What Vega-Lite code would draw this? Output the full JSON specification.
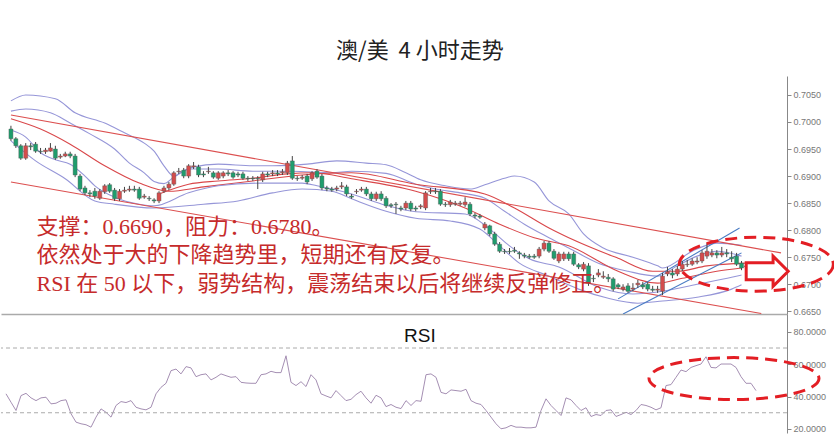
{
  "$schema": "https://vega.github.io/schema/vega-lite/v6.json",
  "background": "white",
  "padding": {"left": 0, "top": 40, "right": 0, "bottom": 0},
  "title": {"text": "澳/美\u00a0\u00a04\u00a0小时走势", "font": "Noto Sans CJK SC", "fontSize": 22, "fontWeight": "normal", "color": "#222222", "anchor": "middle", "offset": 13},
  "config": {"view": {"stroke": null}},
  "spacing": 0,
  "bounds": "flush",
  "datasets": {
    "candles": [
      {"i":0,"o":0.6987,"h":0.6993,"l":0.6965,"c":0.6969},
      {"i":1,"o":0.6969,"h":0.6972,"l":0.6952,"c":0.6956},
      {"i":2,"o":0.6956,"h":0.6959,"l":0.6930,"c":0.6933},
      {"i":3,"o":0.6933,"h":0.6961,"l":0.6930,"c":0.6956},
      {"i":4,"o":0.6956,"h":0.6961,"l":0.6948,"c":0.6954},
      {"i":5,"o":0.6959,"h":0.6963,"l":0.6943,"c":0.6946},
      {"i":6,"o":0.6946,"h":0.6952,"l":0.6941,"c":0.6945},
      {"i":7,"o":0.6945,"h":0.6952,"l":0.6941,"c":0.6948},
      {"i":8,"o":0.6946,"h":0.6961,"l":0.6945,"c":0.6952},
      {"i":9,"o":0.6950,"h":0.6956,"l":0.6930,"c":0.6933},
      {"i":10,"o":0.6935,"h":0.6941,"l":0.6932,"c":0.6937},
      {"i":11,"o":0.6937,"h":0.6945,"l":0.6935,"c":0.6941},
      {"i":12,"o":0.6941,"h":0.6945,"l":0.6933,"c":0.6937},
      {"i":13,"o":0.6937,"h":0.6941,"l":0.6898,"c":0.6902},
      {"i":14,"o":0.6900,"h":0.6904,"l":0.6872,"c":0.6876},
      {"i":15,"o":0.6878,"h":0.6882,"l":0.6865,"c":0.6869},
      {"i":16,"o":0.6869,"h":0.6874,"l":0.6861,"c":0.6867},
      {"i":17,"o":0.6872,"h":0.6878,"l":0.6858,"c":0.6863},
      {"i":18,"o":0.6859,"h":0.6876,"l":0.6856,"c":0.6872},
      {"i":19,"o":0.6871,"h":0.6885,"l":0.6867,"c":0.6882},
      {"i":20,"o":0.6884,"h":0.6887,"l":0.6869,"c":0.6872},
      {"i":21,"o":0.6874,"h":0.6878,"l":0.6854,"c":0.6858},
      {"i":22,"o":0.6858,"h":0.6876,"l":0.6854,"c":0.6872},
      {"i":23,"o":0.6872,"h":0.6880,"l":0.6869,"c":0.6874},
      {"i":24,"o":0.6874,"h":0.6882,"l":0.6871,"c":0.6876},
      {"i":25,"o":0.6876,"h":0.6882,"l":0.6871,"c":0.6874},
      {"i":26,"o":0.6876,"h":0.6880,"l":0.6856,"c":0.6859},
      {"i":27,"o":0.6861,"h":0.6867,"l":0.6858,"c":0.6863},
      {"i":28,"o":0.6859,"h":0.6863,"l":0.6854,"c":0.6858},
      {"i":29,"o":0.6856,"h":0.6859,"l":0.6850,"c":0.6854},
      {"i":30,"o":0.6854,"h":0.6872,"l":0.6850,"c":0.6869},
      {"i":31,"o":0.6872,"h":0.6882,"l":0.6869,"c":0.6878},
      {"i":32,"o":0.6878,"h":0.6889,"l":0.6874,"c":0.6885},
      {"i":33,"o":0.6885,"h":0.6909,"l":0.6882,"c":0.6906},
      {"i":34,"o":0.6908,"h":0.6915,"l":0.6904,"c":0.6909},
      {"i":35,"o":0.6911,"h":0.6915,"l":0.6896,"c":0.6900},
      {"i":36,"o":0.6900,"h":0.6922,"l":0.6896,"c":0.6919},
      {"i":37,"o":0.6917,"h":0.6926,"l":0.6913,"c":0.6919},
      {"i":38,"o":0.6917,"h":0.6921,"l":0.6898,"c":0.6902},
      {"i":39,"o":0.6904,"h":0.6909,"l":0.6898,"c":0.6902},
      {"i":40,"o":0.6908,"h":0.6917,"l":0.6904,"c":0.6909},
      {"i":41,"o":0.6906,"h":0.6909,"l":0.6895,"c":0.6898},
      {"i":42,"o":0.6896,"h":0.6909,"l":0.6893,"c":0.6906},
      {"i":43,"o":0.6900,"h":0.6909,"l":0.6896,"c":0.6906},
      {"i":44,"o":0.6906,"h":0.6911,"l":0.6900,"c":0.6904},
      {"i":45,"o":0.6906,"h":0.6909,"l":0.6895,"c":0.6898},
      {"i":46,"o":0.6904,"h":0.6908,"l":0.6898,"c":0.6902},
      {"i":47,"o":0.6904,"h":0.6908,"l":0.6893,"c":0.6896},
      {"i":48,"o":0.6896,"h":0.6900,"l":0.6891,"c":0.6895},
      {"i":49,"o":0.6896,"h":0.6900,"l":0.6891,"c":0.6895},
      {"i":50,"o":0.6896,"h":0.6900,"l":0.6876,"c":0.6895},
      {"i":51,"o":0.6893,"h":0.6908,"l":0.6889,"c":0.6904},
      {"i":52,"o":0.6904,"h":0.6908,"l":0.6898,"c":0.6902},
      {"i":53,"o":0.6904,"h":0.6911,"l":0.6900,"c":0.6906},
      {"i":54,"o":0.6906,"h":0.6911,"l":0.6900,"c":0.6904},
      {"i":55,"o":0.6906,"h":0.6913,"l":0.6902,"c":0.6908},
      {"i":56,"o":0.6906,"h":0.6928,"l":0.6902,"c":0.6924},
      {"i":57,"o":0.6928,"h":0.6937,"l":0.6893,"c":0.6896},
      {"i":58,"o":0.6896,"h":0.6900,"l":0.6891,"c":0.6895},
      {"i":59,"o":0.6896,"h":0.6902,"l":0.6893,"c":0.6898},
      {"i":60,"o":0.6900,"h":0.6904,"l":0.6885,"c":0.6889},
      {"i":61,"o":0.6895,"h":0.6909,"l":0.6891,"c":0.6906},
      {"i":62,"o":0.6909,"h":0.6913,"l":0.6895,"c":0.6898},
      {"i":63,"o":0.6900,"h":0.6904,"l":0.6874,"c":0.6878},
      {"i":64,"o":0.6878,"h":0.6882,"l":0.6872,"c":0.6876},
      {"i":65,"o":0.6876,"h":0.6880,"l":0.6871,"c":0.6874},
      {"i":66,"o":0.6876,"h":0.6882,"l":0.6872,"c":0.6878},
      {"i":67,"o":0.6880,"h":0.6889,"l":0.6876,"c":0.6882},
      {"i":68,"o":0.6880,"h":0.6884,"l":0.6863,"c":0.6867},
      {"i":69,"o":0.6863,"h":0.6867,"l":0.6858,"c":0.6861},
      {"i":70,"o":0.6871,"h":0.6876,"l":0.6867,"c":0.6872},
      {"i":71,"o":0.6874,"h":0.6880,"l":0.6871,"c":0.6876},
      {"i":72,"o":0.6876,"h":0.6880,"l":0.6863,"c":0.6867},
      {"i":73,"o":0.6867,"h":0.6871,"l":0.6854,"c":0.6858},
      {"i":74,"o":0.6858,"h":0.6871,"l":0.6854,"c":0.6867},
      {"i":75,"o":0.6867,"h":0.6872,"l":0.6854,"c":0.6858},
      {"i":76,"o":0.6859,"h":0.6863,"l":0.6841,"c":0.6845},
      {"i":77,"o":0.6847,"h":0.6850,"l":0.6841,"c":0.6845},
      {"i":78,"o":0.6848,"h":0.6852,"l":0.6830,"c":0.6847},
      {"i":79,"o":0.6841,"h":0.6845,"l":0.6835,"c":0.6839},
      {"i":80,"o":0.6841,"h":0.6854,"l":0.6837,"c":0.6850},
      {"i":81,"o":0.6850,"h":0.6854,"l":0.6835,"c":0.6839},
      {"i":82,"o":0.6841,"h":0.6845,"l":0.6835,"c":0.6839},
      {"i":83,"o":0.6843,"h":0.6848,"l":0.6839,"c":0.6845},
      {"i":84,"o":0.6841,"h":0.6872,"l":0.6837,"c":0.6869},
      {"i":85,"o":0.6871,"h":0.6878,"l":0.6867,"c":0.6872},
      {"i":86,"o":0.6872,"h":0.6878,"l":0.6867,"c":0.6871},
      {"i":87,"o":0.6872,"h":0.6876,"l":0.6845,"c":0.6848},
      {"i":88,"o":0.6848,"h":0.6852,"l":0.6843,"c":0.6847},
      {"i":89,"o":0.6847,"h":0.6856,"l":0.6843,"c":0.6852},
      {"i":90,"o":0.6848,"h":0.6854,"l":0.6845,"c":0.6850},
      {"i":91,"o":0.6848,"h":0.6854,"l":0.6845,"c":0.6850},
      {"i":92,"o":0.6847,"h":0.6861,"l":0.6843,"c":0.6852},
      {"i":93,"o":0.6848,"h":0.6852,"l":0.6826,"c":0.6830},
      {"i":94,"o":0.6828,"h":0.6832,"l":0.6822,"c":0.6826},
      {"i":95,"o":0.6826,"h":0.6830,"l":0.6821,"c":0.6824},
      {"i":96,"o":0.6804,"h":0.6815,"l":0.6800,"c":0.6811},
      {"i":97,"o":0.6808,"h":0.6810,"l":0.6789,"c":0.6793},
      {"i":98,"o":0.6793,"h":0.6797,"l":0.6771,"c":0.6774},
      {"i":99,"o":0.6774,"h":0.6778,"l":0.6758,"c":0.6761},
      {"i":100,"o":0.6761,"h":0.6765,"l":0.6756,"c":0.6760},
      {"i":101,"o":0.6761,"h":0.6767,"l":0.6756,"c":0.6760},
      {"i":102,"o":0.6763,"h":0.6769,"l":0.6758,"c":0.6761},
      {"i":103,"o":0.6758,"h":0.6761,"l":0.6747,"c":0.6756},
      {"i":104,"o":0.6754,"h":0.6758,"l":0.6748,"c":0.6752},
      {"i":105,"o":0.6752,"h":0.6756,"l":0.6747,"c":0.6750},
      {"i":106,"o":0.6752,"h":0.6756,"l":0.6747,"c":0.6750},
      {"i":107,"o":0.6752,"h":0.6769,"l":0.6748,"c":0.6765},
      {"i":108,"o":0.6765,"h":0.6780,"l":0.6761,"c":0.6776},
      {"i":109,"o":0.6776,"h":0.6780,"l":0.6758,"c":0.6761},
      {"i":110,"o":0.6761,"h":0.6765,"l":0.6745,"c":0.6748},
      {"i":111,"o":0.6743,"h":0.6760,"l":0.6739,"c":0.6756},
      {"i":112,"o":0.6747,"h":0.6760,"l":0.6743,"c":0.6756},
      {"i":113,"o":0.6756,"h":0.6760,"l":0.6743,"c":0.6747},
      {"i":114,"o":0.6756,"h":0.6760,"l":0.6734,"c":0.6737},
      {"i":115,"o":0.6736,"h":0.6739,"l":0.6728,"c":0.6732},
      {"i":116,"o":0.6728,"h":0.6741,"l":0.6724,"c":0.6737},
      {"i":117,"o":0.6734,"h":0.6739,"l":0.6697,"c":0.6702},
      {"i":118,"o":0.6711,"h":0.6717,"l":0.6704,"c":0.6710},
      {"i":119,"o":0.6717,"h":0.6728,"l":0.6713,"c":0.6721},
      {"i":120,"o":0.6713,"h":0.6724,"l":0.6710,"c":0.6715},
      {"i":121,"o":0.6713,"h":0.6719,"l":0.6704,"c":0.6710},
      {"i":122,"o":0.6710,"h":0.6713,"l":0.6687,"c":0.6691},
      {"i":123,"o":0.6699,"h":0.6702,"l":0.6691,"c":0.6695},
      {"i":124,"o":0.6691,"h":0.6700,"l":0.6687,"c":0.6695},
      {"i":125,"o":0.6697,"h":0.6702,"l":0.6684,"c":0.6687},
      {"i":126,"o":0.6691,"h":0.6702,"l":0.6687,"c":0.6693},
      {"i":127,"o":0.6699,"h":0.6708,"l":0.6693,"c":0.6702},
      {"i":128,"o":0.6699,"h":0.6704,"l":0.6691,"c":0.6695},
      {"i":129,"o":0.6700,"h":0.6704,"l":0.6687,"c":0.6691},
      {"i":130,"o":0.6691,"h":0.6697,"l":0.6686,"c":0.6689},
      {"i":131,"o":0.6689,"h":0.6697,"l":0.6684,"c":0.6691},
      {"i":132,"o":0.6687,"h":0.6721,"l":0.6680,"c":0.6715},
      {"i":133,"o":0.6719,"h":0.6732,"l":0.6715,"c":0.6723},
      {"i":134,"o":0.6721,"h":0.6728,"l":0.6711,"c":0.6717},
      {"i":135,"o":0.6719,"h":0.6734,"l":0.6715,"c":0.6728},
      {"i":136,"o":0.6728,"h":0.6743,"l":0.6724,"c":0.6737},
      {"i":137,"o":0.6736,"h":0.6745,"l":0.6732,"c":0.6737},
      {"i":138,"o":0.6737,"h":0.6748,"l":0.6734,"c":0.6743},
      {"i":139,"o":0.6741,"h":0.6750,"l":0.6737,"c":0.6743},
      {"i":140,"o":0.6743,"h":0.6763,"l":0.6739,"c":0.6758},
      {"i":141,"o":0.6752,"h":0.6776,"l":0.6747,"c":0.6761},
      {"i":142,"o":0.6754,"h":0.6765,"l":0.6750,"c":0.6758},
      {"i":143,"o":0.6758,"h":0.6763,"l":0.6748,"c":0.6754},
      {"i":144,"o":0.6754,"h":0.6769,"l":0.6750,"c":0.6758},
      {"i":145,"o":0.6758,"h":0.6765,"l":0.6750,"c":0.6756},
      {"i":146,"o":0.6750,"h":0.6761,"l":0.6741,"c":0.6747},
      {"i":147,"o":0.6752,"h":0.6758,"l":0.6734,"c":0.6737},
      {"i":148,"o":0.6739,"h":0.6743,"l":0.6726,"c":0.6730},
      {"i":149,"o":0.6734,"h":0.6739,"l":0.6726,"c":0.6732}
    ],
    "bands": [
      {"s":"U1","i":0,"v":0.7039},{"s":"U1","i":3,"v":0.7050},{"s":"U1","i":9,"v":0.7043},{"s":"U1","i":13,"v":0.7017},{"s":"U1","i":19,"v":0.6998},{"s":"U1","i":23,"v":0.6980},{"s":"U1","i":27,"v":0.6961},{"s":"U1","i":29,"v":0.6946},{"s":"U1","i":31,"v":0.6919},{"s":"U1","i":33,"v":0.6900},{"s":"U1","i":35,"v":0.6909},{"s":"U1","i":37,"v":0.6917},{"s":"U1","i":42,"v":0.6922},{"s":"U1","i":49,"v":0.6919},{"s":"U1","i":53,"v":0.6919},{"s":"U1","i":60,"v":0.6922},{"s":"U1","i":66,"v":0.6928},{"s":"U1","i":72,"v":0.6924},{"s":"U1","i":76,"v":0.6921},{"s":"U1","i":80,"v":0.6906},{"s":"U1","i":83,"v":0.6893},{"s":"U1","i":88,"v":0.6882},{"s":"U1","i":93,"v":0.6876},{"s":"U1","i":96,"v":0.6884},{"s":"U1","i":100,"v":0.6896},{"s":"U1","i":102,"v":0.6900},{"s":"U1","i":106,"v":0.6889},{"s":"U1","i":109,"v":0.6854},{"s":"U1","i":113,"v":0.6830},{"s":"U1","i":116,"v":0.6793},{"s":"U1","i":120,"v":0.6767},{"s":"U1","i":126,"v":0.6750},{"s":"U1","i":131,"v":0.6734},{"s":"U1","i":132,"v":0.6730},{"s":"U1","i":138,"v":0.6761},{"s":"U1","i":143,"v":0.6776},{"s":"U1","i":148,"v":0.6772},
      {"s":"U2","i":0,"v":0.7020},{"s":"U2","i":3,"v":0.7024},{"s":"U2","i":8,"v":0.7017},{"s":"U2","i":12,"v":0.6998},{"s":"U2","i":16,"v":0.6978},{"s":"U2","i":21,"v":0.6950},{"s":"U2","i":24,"v":0.6924},{"s":"U2","i":27,"v":0.6906},{"s":"U2","i":29,"v":0.6890},{"s":"U2","i":31,"v":0.6886},{"s":"U2","i":33,"v":0.6898},{"s":"U2","i":36,"v":0.6913},{"s":"U2","i":42,"v":0.6913},{"s":"U2","i":49,"v":0.6909},{"s":"U2","i":57,"v":0.6909},{"s":"U2","i":65,"v":0.6906},{"s":"U2","i":69,"v":0.6909},{"s":"U2","i":76,"v":0.6905},{"s":"U2","i":82,"v":0.6885},{"s":"U2","i":86,"v":0.6876},{"s":"U2","i":91,"v":0.6869},{"s":"U2","i":96,"v":0.6859},{"s":"U2","i":100,"v":0.6835},{"s":"U2","i":104,"v":0.6811},{"s":"U2","i":109,"v":0.6786},{"s":"U2","i":113,"v":0.6767},{"s":"U2","i":119,"v":0.6739},{"s":"U2","i":125,"v":0.6724},{"s":"U2","i":131,"v":0.6715},{"s":"U2","i":135,"v":0.6734},{"s":"U2","i":139,"v":0.6752},{"s":"U2","i":143,"v":0.6761},{"s":"U2","i":148,"v":0.6752},
      {"s":"M1","i":0,"v":0.7006},{"s":"M1","i":6,"v":0.6987},{"s":"M1","i":12,"v":0.6959},{"s":"M1","i":19,"v":0.6919},{"s":"M1","i":26,"v":0.6887},{"s":"M1","i":32,"v":0.6872},{"s":"M1","i":39,"v":0.6880},{"s":"M1","i":49,"v":0.6891},{"s":"M1","i":59,"v":0.6902},{"s":"M1","i":69,"v":0.6906},{"s":"M1","i":82,"v":0.6885},{"s":"M1","i":96,"v":0.6867},{"s":"M1","i":102,"v":0.6841},{"s":"M1","i":109,"v":0.6804},{"s":"M1","i":113,"v":0.6786},{"s":"M1","i":123,"v":0.6748},{"s":"M1","i":130,"v":0.6724},{"s":"M1","i":135,"v":0.6724},{"s":"M1","i":141,"v":0.6734},{"s":"M1","i":149,"v":0.6739},
      {"s":"M2","i":30,"v":0.6867},{"s":"M2","i":36,"v":0.6885},{"s":"M2","i":42,"v":0.6891},{"s":"M2","i":49,"v":0.6896},{"s":"M2","i":56,"v":0.6904},{"s":"M2","i":61,"v":0.6906},{"s":"M2","i":69,"v":0.6895},{"s":"M2","i":82,"v":0.6872},{"s":"M2","i":92,"v":0.6841},{"s":"M2","i":99,"v":0.6811},{"s":"M2","i":106,"v":0.6786},{"s":"M2","i":113,"v":0.6771},{"s":"M2","i":123,"v":0.6724},{"s":"M2","i":131,"v":0.6702},{"s":"M2","i":136,"v":0.6711},{"s":"M2","i":143,"v":0.6724},{"s":"M2","i":148,"v":0.6730},
      {"s":"L2","i":0,"v":0.6985},{"s":"L2","i":3,"v":0.6972},{"s":"L2","i":6,"v":0.6943},{"s":"L2","i":9,"v":0.6930},{"s":"L2","i":12,"v":0.6922},{"s":"L2","i":15,"v":0.6900},{"s":"L2","i":17,"v":0.6882},{"s":"L2","i":21,"v":0.6861},{"s":"L2","i":26,"v":0.6848},{"s":"L2","i":29,"v":0.6845},{"s":"L2","i":36,"v":0.6869},{"s":"L2","i":42,"v":0.6882},{"s":"L2","i":51,"v":0.6887},{"s":"L2","i":59,"v":0.6887},{"s":"L2","i":62,"v":0.6882},{"s":"L2","i":69,"v":0.6867},{"s":"L2","i":76,"v":0.6846},{"s":"L2","i":82,"v":0.6834},{"s":"L2","i":92,"v":0.6830},{"s":"L2","i":97,"v":0.6802},{"s":"L2","i":101,"v":0.6771},{"s":"L2","i":105,"v":0.6747},{"s":"L2","i":111,"v":0.6732},{"s":"L2","i":119,"v":0.6695},{"s":"L2","i":126,"v":0.6682},{"s":"L2","i":132,"v":0.6687},{"s":"L2","i":139,"v":0.6700},{"s":"L2","i":146,"v":0.6713},{"s":"L2","i":148,"v":0.6717},
      {"s":"L1","i":0,"v":0.6965},{"s":"L1","i":5,"v":0.6928},{"s":"L1","i":11,"v":0.6895},{"s":"L1","i":17,"v":0.6854},{"s":"L1","i":21,"v":0.6848},{"s":"L1","i":29,"v":0.6841},{"s":"L1","i":39,"v":0.6848},{"s":"L1","i":46,"v":0.6854},{"s":"L1","i":53,"v":0.6869},{"s":"L1","i":59,"v":0.6876},{"s":"L1","i":65,"v":0.6872},{"s":"L1","i":69,"v":0.6858},{"s":"L1","i":76,"v":0.6835},{"s":"L1","i":82,"v":0.6822},{"s":"L1","i":89,"v":0.6817},{"s":"L1","i":95,"v":0.6802},{"s":"L1","i":99,"v":0.6771},{"s":"L1","i":103,"v":0.6739},{"s":"L1","i":109,"v":0.6715},{"s":"L1","i":115,"v":0.6691},{"s":"L1","i":121,"v":0.6674},{"s":"L1","i":127,"v":0.6665},{"s":"L1","i":132,"v":0.6669},{"s":"L1","i":139,"v":0.6676},{"s":"L1","i":146,"v":0.6691},{"s":"L1","i":148,"v":0.6699},
      {"s":"TU","i":0,"v":0.7013},{"s":"TU","i":156,"v":0.6758},
      {"s":"TL","i":0,"v":0.6889},{"s":"TL","i":152,"v":0.6646},
      {"s":"B1","i":123,"v":0.6673},{"s":"B1","i":147.6,"v":0.6804},
      {"s":"B2","i":124,"v":0.6645},{"s":"B2","i":148,"v":0.6758}
    ],
    "rsi": [
      {"i":0,"r":41.7},{"i":1,"r":36.5},{"i":2,"r":31.4},{"i":3,"r":40.6},{"i":4,"r":42.0},{"i":5,"r":39.2},{"i":6,"r":37.5},{"i":7,"r":39.2},{"i":8,"r":39.6},{"i":9,"r":35.5},
      {"i":10,"r":35.9},{"i":11,"r":37.5},{"i":12,"r":38.0},{"i":13,"r":29.4},{"i":14,"r":24.2},{"i":15,"r":23.2},{"i":16,"r":22.6},{"i":17,"r":21.1},{"i":18,"r":27.3},{"i":19,"r":32.4},
      {"i":20,"r":30.3},{"i":21,"r":27.3},{"i":22,"r":34.5},{"i":23,"r":36.9},{"i":24,"r":36.3},{"i":25,"r":37.5},{"i":26,"r":33.4},{"i":27,"r":32.4},{"i":28,"r":31.8},{"i":29,"r":33.4},
      {"i":30,"r":41.7},{"i":31,"r":45.7},{"i":32,"r":48.2},{"i":33,"r":56.0},{"i":34,"r":57.0},{"i":35,"r":54.0},{"i":36,"r":58.5},{"i":37,"r":57.7},{"i":38,"r":52.3},{"i":39,"r":53.5},
      {"i":40,"r":54.0},{"i":41,"r":50.3},{"i":42,"r":51.9},{"i":43,"r":54.0},{"i":44,"r":52.9},{"i":45,"r":51.9},{"i":46,"r":52.3},{"i":47,"r":48.8},{"i":48,"r":48.4},{"i":49,"r":48.2},
      {"i":50,"r":48.2},{"i":51,"r":53.5},{"i":52,"r":54.0},{"i":53,"r":55.6},{"i":54,"r":54.8},{"i":55,"r":54.8},{"i":56,"r":65.2},{"i":57,"r":48.8},{"i":58,"r":46.8},{"i":59,"r":49.2},
      {"i":60,"r":46.2},{"i":61,"r":53.5},{"i":62,"r":50.3},{"i":63,"r":41.7},{"i":64,"r":40.4},{"i":65,"r":39.2},{"i":66,"r":43.7},{"i":67,"r":40.6},{"i":68,"r":37.5},{"i":69,"r":38.3},
      {"i":70,"r":41.2},{"i":71,"r":43.3},{"i":72,"r":39.2},{"i":73,"r":35.9},{"i":74,"r":40.8},{"i":75,"r":39.2},{"i":76,"r":33.8},{"i":77,"r":35.1},{"i":78,"r":33.4},{"i":79,"r":32.6},
      {"i":80,"r":37.5},{"i":81,"r":34.5},{"i":82,"r":37.5},{"i":83,"r":37.1},{"i":84,"r":53.5},{"i":85,"r":54.0},{"i":86,"r":51.9},{"i":87,"r":42.6},{"i":88,"r":41.7},{"i":89,"r":44.1},
      {"i":90,"r":43.7},{"i":91,"r":43.3},{"i":92,"r":44.5},{"i":93,"r":37.5},{"i":94,"r":35.9},{"i":95,"r":35.1},{"i":96,"r":31.4},{"i":97,"r":27.3},{"i":98,"r":23.2},{"i":99,"r":20.1},
      {"i":100,"r":20.7},{"i":101,"r":22.2},{"i":102,"r":21.1},{"i":103,"r":21.1},{"i":104,"r":20.7},{"i":105,"r":20.7},{"i":106,"r":21.1},{"i":107,"r":31.4},{"i":108,"r":38.6},{"i":109,"r":34.5},
      {"i":110,"r":31.4},{"i":111,"r":28.3},{"i":112,"r":39.2},{"i":113,"r":38.0},{"i":114,"r":34.5},{"i":115,"r":31.4},{"i":116,"r":33.1},{"i":117,"r":27.7},{"i":118,"r":28.9},{"i":119,"r":28.3},
      {"i":120,"r":31.4},{"i":121,"r":31.8},{"i":122,"r":27.7},{"i":123,"r":28.9},{"i":124,"r":30.3},{"i":125,"r":28.9},{"i":126,"r":31.4},{"i":127,"r":35.1},{"i":128,"r":34.5},{"i":129,"r":33.4},
      {"i":130,"r":31.8},{"i":131,"r":33.1},{"i":132,"r":46.8},{"i":133,"r":47.4},{"i":134,"r":51.9},{"i":135,"r":56.4},{"i":136,"r":55.4},{"i":137,"r":58.0},{"i":138,"r":59.1},{"i":139,"r":60.1},
      {"i":140,"r":64.6},{"i":141,"r":58.0},{"i":142,"r":57.7},{"i":143,"r":60.1},{"i":144,"r":60.1},{"i":145,"r":60.1},{"i":146,"r":58.0},{"i":147,"r":52.3},{"i":148,"r":48.2},{"i":149,"r":48.2},
      {"i":150,"r":43.7}
    ]
  },
  "vconcat": [
    {
      "width": 786,
      "height": 238,
      "layer": [
        {
          "data": {"name": "bands"},
          "mark": {"type": "line", "strokeWidth": 1.1, "interpolate": "monotone", "clip": true},
          "encoding": {
            "x": {"field": "i", "type": "quantitative", "scale": {"domain": [-1, 156.2], "nice": false, "zero": false},
                  "axis": {"orient": "bottom", "labels": false, "ticks": false, "grid": false, "title": null, "domainColor": "#aaaaaa", "domainWidth": 1.5}},
            "y": {"field": "v", "type": "quantitative", "scale": {"domain": [0.6645, 0.7085], "nice": false, "zero": false},
                  "axis": {"orient": "right", "values": [0.665, 0.67, 0.675, 0.68, 0.685, 0.69, 0.695, 0.7, 0.705], "format": ".4f", "title": null, "grid": false, "domainColor": "#888888", "tickColor": "#888888", "tickSize": 4, "labelColor": "#777777", "labelFontSize": 9, "labelFont": "Liberation Sans", "labelPadding": 2}},
            "color": {"field": "s", "type": "nominal", "legend": null,
                      "scale": {"domain": ["U1", "U2", "L2", "L1", "M1", "M2", "TU", "TL", "B1", "B2"],
                                "range": ["#9696d8", "#9696d8", "#9696d8", "#9696d8", "#d9474a", "#d9474a", "#dc4f4f", "#dc4f4f", "#4a7cc4", "#4a7cc4"]}}
          }
        },
        {
          "data": {"name": "candles"},
          "mark": {"type": "rule", "color": "#444444", "strokeWidth": 1},
          "encoding": {
            "x": {"field": "i", "type": "quantitative", "scale": {"domain": [-1, 156.2], "nice": false, "zero": false},
                  "axis": {"orient": "bottom", "labels": false, "ticks": false, "grid": false, "title": null, "domainColor": "#aaaaaa", "domainWidth": 1.5}},
            "y": {"field": "l", "type": "quantitative", "scale": {"domain": [0.6645, 0.7085], "nice": false, "zero": false},
                  "axis": {"orient": "right", "values": [0.665, 0.67, 0.675, 0.68, 0.685, 0.69, 0.695, 0.7, 0.705], "format": ".4f", "title": null, "grid": false, "domainColor": "#888888", "tickColor": "#888888", "tickSize": 4, "labelColor": "#777777", "labelFontSize": 9, "labelFont": "Liberation Sans", "labelPadding": 2}},
            "y2": {"field": "h"}
          }
        },
        {
          "data": {"name": "candles"},
          "mark": {"type": "bar", "width": 4, "stroke": "#555555", "strokeWidth": 0.4},
          "encoding": {
            "x": {"field": "i", "type": "quantitative", "scale": {"domain": [-1, 156.2], "nice": false, "zero": false},
                  "axis": {"orient": "bottom", "labels": false, "ticks": false, "grid": false, "title": null, "domainColor": "#aaaaaa", "domainWidth": 1.5}},
            "y": {"field": "o", "type": "quantitative", "scale": {"domain": [0.6645, 0.7085], "nice": false, "zero": false},
                  "axis": {"orient": "right", "values": [0.665, 0.67, 0.675, 0.68, 0.685, 0.69, 0.695, 0.7, 0.705], "format": ".4f", "title": null, "grid": false, "domainColor": "#888888", "tickColor": "#888888", "tickSize": 4, "labelColor": "#777777", "labelFontSize": 9, "labelFont": "Liberation Sans", "labelPadding": 2}},
            "y2": {"field": "c"},
            "color": {"condition": {"test": "datum.c < datum.o", "value": "#1f9d6d"}, "value": "#d44c4c"}
          }
        },
        {
          "data": {"values": [{"note": "支撑：0.6690，阻力：0.6780。\n依然处于大的下降趋势里，短期还有反复。\nRSI 在 50 以下，弱势结构，震荡结束以后将继续反弹修正。"}]},
          "mark": {"type": "text", "align": "left", "baseline": "alphabetic", "fontSize": 22, "font": "Liberation Serif, Noto Sans CJK SC", "color": "#c62b2b", "lineHeight": 28.5, "lineBreak": "\n"},
          "encoding": {
            "x": {"datum": 5.2, "type": "quantitative", "scale": {"domain": [-1, 156.2], "nice": false, "zero": false},
                  "axis": {"orient": "bottom", "labels": false, "ticks": false, "grid": false, "title": null, "domainColor": "#aaaaaa", "domainWidth": 1.5}},
            "y": {"datum": 0.6793, "type": "quantitative", "scale": {"domain": [0.6645, 0.7085], "nice": false, "zero": false},
                  "axis": {"orient": "right", "values": [0.665, 0.67, 0.675, 0.68, 0.685, 0.69, 0.695, 0.7, 0.705], "format": ".4f", "title": null, "grid": false, "domainColor": "#888888", "tickColor": "#888888", "tickSize": 4, "labelColor": "#777777", "labelFontSize": 9, "labelFont": "Liberation Sans", "labelPadding": 2}},
            "text": {"field": "note"}
          }
        },
        {
          "data": {"values": [{}]},
          "mark": {"type": "point", "shape": "M 1 0 C 1 0.1933 0.5523 0.35 0 0.35 C -0.5523 0.35 -1 0.1933 -1 0 C -1 -0.1933 -0.5523 -0.35 0 -0.35 C 0.5523 -0.35 1 -0.1933 1 0 Z", "size": 23716, "filled": false, "color": "#e31e24", "strokeWidth": 3, "strokeDash": [12, 7], "opacity": 1},
          "encoding": {
            "x": {"datum": 151, "type": "quantitative", "scale": {"domain": [-1, 156.2], "nice": false, "zero": false},
                  "axis": {"orient": "bottom", "labels": false, "ticks": false, "grid": false, "title": null, "domainColor": "#aaaaaa", "domainWidth": 1.5}},
            "y": {"datum": 0.6737, "type": "quantitative", "scale": {"domain": [0.6645, 0.7085], "nice": false, "zero": false},
                  "axis": {"orient": "right", "values": [0.665, 0.67, 0.675, 0.68, 0.685, 0.69, 0.695, 0.7, 0.705], "format": ".4f", "title": null, "grid": false, "domainColor": "#888888", "tickColor": "#888888", "tickSize": 4, "labelColor": "#777777", "labelFontSize": 9, "labelFont": "Liberation Sans", "labelPadding": 2}}
          }
        },
        {
          "data": {"values": [{}]},
          "mark": {"type": "point", "shape": "M -1 -0.4 L 0.28 -0.4 L 0.28 -0.72 L 1 0 L 0.28 0.72 L 0.28 0.4 L -1 0.4 Z", "size": 1764, "filled": true, "fill": "white", "stroke": "#e31e24", "strokeWidth": 3, "opacity": 1},
          "encoding": {
            "x": {"datum": 153.2, "type": "quantitative", "scale": {"domain": [-1, 156.2], "nice": false, "zero": false},
                  "axis": {"orient": "bottom", "labels": false, "ticks": false, "grid": false, "title": null, "domainColor": "#aaaaaa", "domainWidth": 1.5}},
            "y": {"datum": 0.6724, "type": "quantitative", "scale": {"domain": [0.6645, 0.7085], "nice": false, "zero": false},
                  "axis": {"orient": "right", "values": [0.665, 0.67, 0.675, 0.68, 0.685, 0.69, 0.695, 0.7, 0.705], "format": ".4f", "title": null, "grid": false, "domainColor": "#888888", "tickColor": "#888888", "tickSize": 4, "labelColor": "#777777", "labelFontSize": 9, "labelFont": "Liberation Sans", "labelPadding": 2}}
          }
        }
      ]
    },
    {
      "width": 786,
      "height": 119,
      "layer": [
        {
          "data": {"name": "rsi"},
          "mark": {"type": "line", "color": "#a58fb3", "strokeWidth": 1},
          "encoding": {
            "x": {"field": "i", "type": "quantitative", "scale": {"domain": [-1, 156.2], "nice": false, "zero": false}, "axis": null},
            "y": {"field": "r", "type": "quantitative", "scale": {"domain": [17.5, 91], "nice": false, "zero": false},
                  "axis": {"orient": "right", "values": [20, 40, 60, 80], "format": ".4f", "title": null, "grid": false, "domainColor": "#888888", "tickColor": "#888888", "tickSize": 4, "labelColor": "#777777", "labelFontSize": 9, "labelFont": "Liberation Sans", "labelPadding": 2}}
          }
        },
        {
          "data": {"values": [{"lvl": 70}, {"lvl": 30}]},
          "mark": {"type": "rule", "color": "#aaaaaa", "strokeWidth": 1, "strokeDash": [4, 3]},
          "encoding": {
            "y": {"field": "lvl", "type": "quantitative", "scale": {"domain": [17.5, 91], "nice": false, "zero": false},
                  "axis": {"orient": "right", "values": [20, 40, 60, 80], "format": ".4f", "title": null, "grid": false, "domainColor": "#888888", "tickColor": "#888888", "tickSize": 4, "labelColor": "#777777", "labelFontSize": 9, "labelFont": "Liberation Sans", "labelPadding": 2}}
          }
        },
        {
          "data": {"values": [{"name": "RSI"}]},
          "mark": {"type": "text", "align": "left", "baseline": "alphabetic", "fontSize": 19, "font": "Liberation Sans", "color": "#111111"},
          "encoding": {
            "x": {"datum": 79.6, "type": "quantitative", "scale": {"domain": [-1, 156.2], "nice": false, "zero": false}, "axis": null},
            "y": {"datum": 73.9, "type": "quantitative", "scale": {"domain": [17.5, 91], "nice": false, "zero": false},
                  "axis": {"orient": "right", "values": [20, 40, 60, 80], "format": ".4f", "title": null, "grid": false, "domainColor": "#888888", "tickColor": "#888888", "tickSize": 4, "labelColor": "#777777", "labelFontSize": 9, "labelFont": "Liberation Sans", "labelPadding": 2}},
            "text": {"field": "name"}
          }
        },
        {
          "data": {"values": [{}]},
          "mark": {"type": "point", "shape": "M 1 0 C 1 0.1364 0.5523 0.247 0 0.247 C -0.5523 0.247 -1 0.1364 -1 0 C -1 -0.1364 -0.5523 -0.247 0 -0.247 C 0.5523 -0.247 1 -0.1364 1 0 Z", "size": 28900, "filled": false, "color": "#e31e24", "strokeWidth": 3, "strokeDash": [12, 7], "opacity": 1},
          "encoding": {
            "x": {"datum": 145.6, "type": "quantitative", "scale": {"domain": [-1, 156.2], "nice": false, "zero": false}, "axis": null},
            "y": {"datum": 51.1, "type": "quantitative", "scale": {"domain": [17.5, 91], "nice": false, "zero": false},
                  "axis": {"orient": "right", "values": [20, 40, 60, 80], "format": ".4f", "title": null, "grid": false, "domainColor": "#888888", "tickColor": "#888888", "tickSize": 4, "labelColor": "#777777", "labelFontSize": 9, "labelFont": "Liberation Sans", "labelPadding": 2}}
          }
        }
      ]
    }
  ]
}
